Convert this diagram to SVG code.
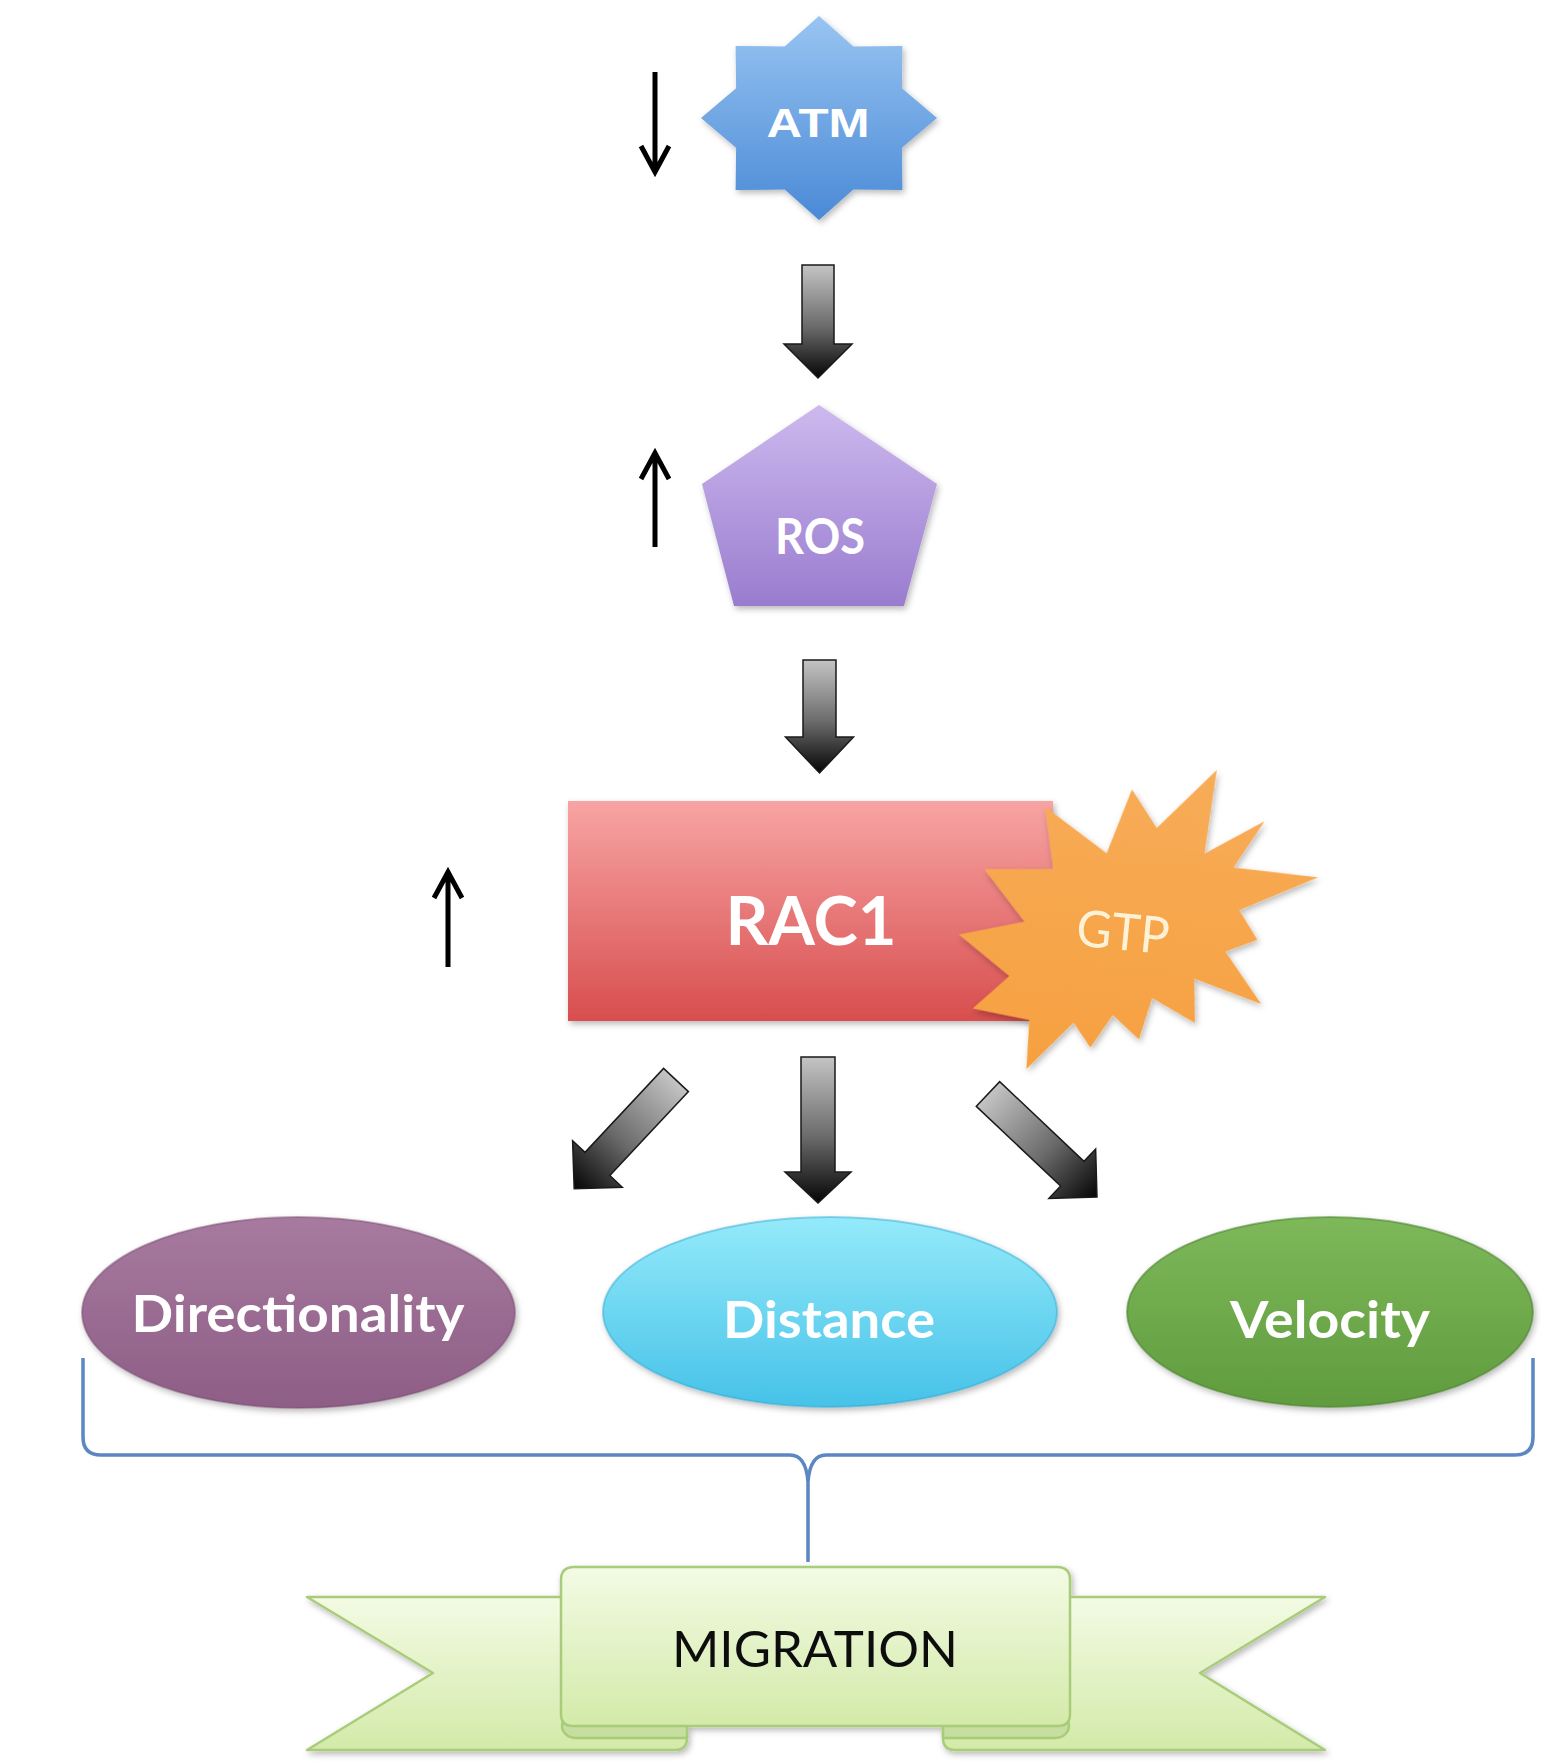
<svg xmlns="http://www.w3.org/2000/svg" width="1541" height="1764" viewBox="0 0 1541 1764">
<style>
.lbl{font-family:Lato,"Open Sans","Liberation Sans",sans-serif;font-weight:bold;fill:#ffffff;text-anchor:middle}
.reg{font-family:Lato,"Open Sans","Liberation Sans",sans-serif;font-weight:normal;text-anchor:middle}
.big{stroke:#1a1a1a;stroke-width:1.5;stroke-linejoin:miter;fill:url(#gArrow)}
.thin{fill:none;stroke:#000;stroke-width:5;stroke-linecap:butt;stroke-linejoin:miter}
.brace{fill:none;stroke:#5b87c2;stroke-width:3.5;stroke-linejoin:round}
.ban{fill:url(#gBan);stroke:#a9cc7a;stroke-width:2.5;stroke-linejoin:round}
.fold{fill:#c6dea0;stroke:#a9cc7a;stroke-width:2.5;stroke-linejoin:round}
</style>
<defs>
<filter id="sh" x="-15%" y="-15%" width="135%" height="140%">
<feDropShadow dx="2" dy="3" stdDeviation="3" flood-color="#000" flood-opacity="0.28"/>
</filter>
<linearGradient id="gArrow" x1="0" y1="0" x2="0" y2="1">
<stop offset="0" stop-color="#c4c4c4"/>
<stop offset="0.55" stop-color="#6a6a6a"/>
<stop offset="1" stop-color="#050505"/>
</linearGradient>
<linearGradient id="gAtm" x1="0" y1="0" x2="0" y2="1">
<stop offset="0" stop-color="#98c4f2"/>
<stop offset="1" stop-color="#4a8ad6"/>
</linearGradient>
<linearGradient id="gRos" x1="0" y1="0" x2="0" y2="1">
<stop offset="0" stop-color="#cdb9ee"/>
<stop offset="1" stop-color="#9a7ccf"/>
</linearGradient>
<linearGradient id="gRac" x1="0" y1="0" x2="0" y2="1">
<stop offset="0" stop-color="#f8a4a4"/>
<stop offset="1" stop-color="#d84e4e"/>
</linearGradient>
<linearGradient id="gGtp" x1="0" y1="0" x2="0" y2="1">
<stop offset="0" stop-color="#f8ac58"/>
<stop offset="1" stop-color="#f6a040"/>
</linearGradient>
<linearGradient id="gDir" x1="0" y1="0" x2="0" y2="1">
<stop offset="0" stop-color="#a77a9f"/>
<stop offset="1" stop-color="#8e5e86"/>
</linearGradient>
<linearGradient id="gDis" x1="0" y1="0" x2="0" y2="1">
<stop offset="0" stop-color="#94eafa"/>
<stop offset="1" stop-color="#46c2e8"/>
</linearGradient>
<linearGradient id="gVel" x1="0" y1="0" x2="0" y2="1">
<stop offset="0" stop-color="#7db85a"/>
<stop offset="1" stop-color="#609c3e"/>
</linearGradient>
<linearGradient id="gBan" x1="0" y1="0" x2="0" y2="1">
<stop offset="0" stop-color="#f3fbe4"/>
<stop offset="1" stop-color="#d3eaa9"/>
</linearGradient>
</defs>
<rect x="0" y="0" width="1541" height="1764" fill="#ffffff"/>

<g id="atm">
<polygon filter="url(#sh)" fill="url(#gAtm)" points="819,16 853.3,46.4 902.4,45.9 901.9,88.3 937,118 901.9,147.7 902.4,190.1 853.3,189.6 819,220 784.7,189.6 735.6,190.1 736.1,147.7 701,118 736.1,88.3 735.6,45.9 784.7,46.4"/>
<text class="lbl" style="font-family:'Liberation Sans',Arial,sans-serif" x="818" y="137" font-size="40" textLength="103" lengthAdjust="spacingAndGlyphs">ATM</text>
</g>

<g id="ros">
<polygon filter="url(#sh)" fill="url(#gRos)" points="819,405 937,484 904,606 734,606 702,484"/>
<text class="lbl" x="820" y="554" font-size="49" textLength="90" lengthAdjust="spacingAndGlyphs">ROS</text>
</g>

<g id="rac1">
<rect filter="url(#sh)" x="568" y="801" width="485" height="220" fill="url(#gRac)"/>
<text class="lbl" x="811" y="945" font-size="67" textLength="171" lengthAdjust="spacingAndGlyphs">RAC1</text>
</g>

<g id="gtp">
<path filter="url(#sh)" fill="url(#gGtp)" transform="translate(1137,921) rotate(5.5) translate(-176,-158)" d="M186.8,63.5 L158.4,27.6 L139.3,93.4 L73.4,53 L87.6,114.3 L19.1,121 L64.1,169.6 L0,188.4 L54.3,224.9 L20.9,260.8 L78.3,266.8 L80.1,316 L122.6,265.2 L141.7,288.4 L160.9,254.1 L189.3,275.7 L198.5,233.2 L243.5,254.1 L238.6,209.9 L307.6,228.7 L267,180.1 L297.7,165.2 L276.8,137.6 L352,97.2 L267,95.6 L293.4,46.4 L236.7,84.5 L241,0 Z"/>
<text class="reg" fill="#fdf1d6" transform="rotate(5.5 1123 932)" x="1123" y="950" font-size="51" textLength="93" lengthAdjust="spacingAndGlyphs">GTP</text>
</g>

<g id="directionality">
<ellipse filter="url(#sh)" cx="298.5" cy="1312.5" rx="216.5" ry="95.5" fill="url(#gDir)" stroke="#7a4e72" stroke-opacity="0.45" stroke-width="2"/>
<text class="lbl" x="298" y="1332" font-size="52" textLength="333" lengthAdjust="spacingAndGlyphs">Directionality</text>
</g>

<g id="distance">
<ellipse filter="url(#sh)" cx="830" cy="1312" rx="227" ry="95" fill="url(#gDis)" stroke="#2aa6d0" stroke-opacity="0.45" stroke-width="2"/>
<text class="lbl" x="829" y="1338" font-size="51" textLength="212" lengthAdjust="spacingAndGlyphs">Distance</text>
</g>

<g id="velocity">
<ellipse filter="url(#sh)" cx="1330" cy="1312" rx="203" ry="95" fill="url(#gVel)" stroke="#4a7e2c" stroke-opacity="0.5" stroke-width="2"/>
<text class="lbl" x="1330" y="1338" font-size="51" textLength="200" lengthAdjust="spacingAndGlyphs">Velocity</text>
</g>

<g id="migration" filter="url(#sh)">
<path class="ban" d="M307,1597 H687 V1738 Q687,1750 675,1750 H307 L433,1673 Z"/>
<path class="ban" d="M1325,1597 H943 V1738 Q943,1750 955,1750 H1325 L1200,1673 Z"/>
<path class="fold" d="M687,1714 H576 A14,12 0 0 0 576,1738 H687 Z"/>
<path class="fold" d="M943,1714 H1055 A14,12 0 0 1 1055,1738 H943 Z"/>
<path class="ban" d="M561,1580 Q561,1567 574,1567 H1057 Q1070,1567 1070,1580 V1714 Q1070,1726 1058,1726 H573 Q561,1726 561,1714 Z"/>
<text class="reg" fill="#111111" x="815" y="1667" font-size="51" textLength="286" lengthAdjust="spacingAndGlyphs">MIGRATION</text>
</g>

<g id="connectors">
<path class="big" transform="translate(818,265)" d="M-16,0 H16 V79 H34 L0,113 L-34,79 H-16 Z"/>
<path class="big" transform="translate(819.5,660)" d="M-16.5,0 H16.5 V77 H34 L0,113 L-34,77 H-16.5 Z"/>
<path class="big" transform="translate(818,1057)" d="M-17,0 H17 V115 H33 L0,146 L-33,115 H-17 Z"/>
<path class="big" transform="translate(676,1080) rotate(43.1)" d="M-17,0 H17 V115 H34 L0,149 L-34,115 H-17 Z"/>
<path class="big" transform="translate(988,1094) rotate(-46.6)" d="M-17,0 H17 V116 H34 L0,150 L-34,116 H-17 Z"/>
<path class="brace" d="M83,1358 V1437 Q83,1455 101,1455 H790 Q806,1455 808,1482 Q810,1455 826,1455 H1515 Q1533,1455 1533,1437 V1358 M808,1480 V1562"/>
</g>

<g id="indicators">
<path class="thin" d="M655,72 V170 M641,146 L655,172 L669,146"/>
<path class="thin" d="M655,547 V456 M641,479 L655,453 L669,479"/>
<path class="thin" d="M448,967 V875 M434,898 L448,872 L462,898"/>
</g>
</svg>
